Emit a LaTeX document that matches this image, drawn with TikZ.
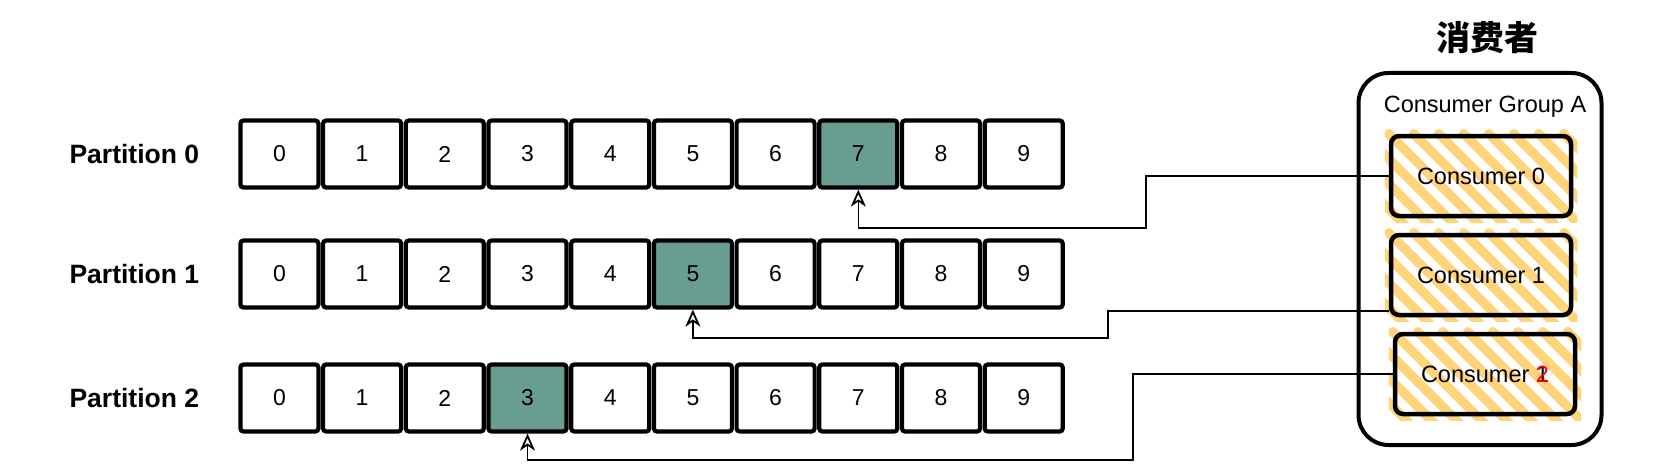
\documentclass[tikz,border=0pt]{standalone}
\usepackage{fontspec}
\setmainfont{Liberation Sans}
\newfontfamily\cjk{Noto Sans CJK SC}
\usetikzlibrary{arrows.meta,backgrounds}

\definecolor{cellgreen}{RGB}{104,158,146}
\definecolor{hatchyellow}{RGB}{255,212,122}

\begin{document}
\begin{tikzpicture}[x=1pt,y=-1pt,
  cell/.style={draw,line width=4.2pt,rounded corners=3pt,
    minimum width=78pt,minimum height=67pt,inner sep=0pt,
    font=\fontsize{23}{27}\selectfont},
  active/.style={cell,fill=cellgreen},
  plabel/.style={anchor=west,font=\bfseries\fontsize{26.5}{30}\selectfont},
  groupbox/.style={draw,line width=4pt,rounded corners=30pt,
    minimum width=243pt,minimum height=372pt},
  consumer/.style={draw,line width=4.5pt,rounded corners=8pt,
    minimum width=180pt,minimum height=80pt,
    font=\fontsize{23.5}{28}\selectfont},
  hatch/.style={hatchyellow,line width=9.5pt,line cap=round},
  link/.style={line width=1.6pt,
    -{Stealth[open,length=17pt,width=15pt,inset=5pt,line width=1.8pt]}}
]
  \useasboundingbox (0,0) rectangle (1653,476);

  % партиции
  \foreach \p/\y/\k in {0/154/7,1/274/5,2/398/3}{
    \node[plabel] (part\p) at (66,\y) {Partition \p};
    \foreach \i in {0,...,9}{
      \ifnum\i=\k
        \node[active] (p\p c\i) at ({279.4+82.7*\i},\y) {\i};
      \else
        \node[cell] (p\p c\i) at ({279.4+82.7*\i},\y) {\i};
      \fi
    }
  }

  % группа потребителей
  \node[font=\cjk\bfseries\fontsize{34}{40}\selectfont] (title) at (1487,38) {消费者};
  \node[groupbox] (group) at (1480,259) {};
  \node[font=\fontsize{23.5}{28}\selectfont] (glabel) at (1485,107) {Consumer Group A};

  \node[consumer] (cons0) at (1481,176) {Consumer 0};
  \node[consumer] (cons1) at (1481,275) {Consumer 1};
  \node[consumer] (cons2) at (1485,374) {Consumer \rlap{1}\textcolor{red}{2}};

  % штриховка
  \begin{scope}[on background layer]
    \foreach \c in {cons0,cons1,cons2}{
      \begin{scope}
        \clip ([shift={(-4,-4)}]\c.north west) rectangle ([shift={(4,4)}]\c.south east);
        \foreach \d in {-100,-75,...,200}
          \draw[hatch] ([xshift=\d pt]\c.north west) -- ++(110,110);
      \end{scope}
    }
  \end{scope}

  % связи
  \draw[link] (cons0.west) -| (1146,228) -| (p0c7.south);
  \draw[link] ([yshift=-36pt]cons1.west) -| (1108,338) -| (p1c5.south);
  \draw[link] (cons2.west) -| (1133,460) -| (p2c3.south);
\end{tikzpicture}
\end{document}
